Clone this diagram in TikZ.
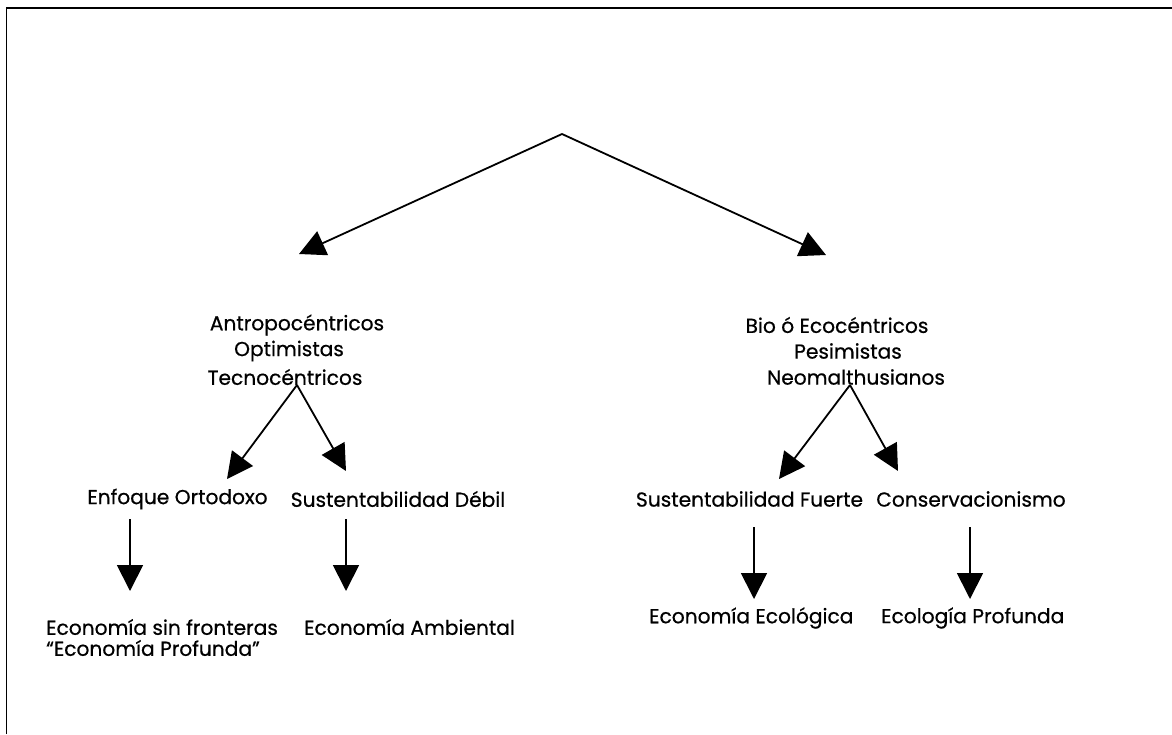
\documentclass[tikz,border=0pt]{standalone}
\usepackage{fontspec}
\setmainfont{Poppins}[FakeBold=0.6]
\usetikzlibrary{arrows.meta}
\begin{document}
\begin{tikzpicture}[x=1pt,y=-1pt,
  conn/.style={line width=1.8pt,-{Triangle[length=26pt,width=26pt]}},
  lbl/.style={inner sep=0pt,font=\fontsize{20.2}{24}\selectfont},
  frame/.style={line width=1.8pt}]
\useasboundingbox (0,0) rectangle (1172,734);
\draw[frame] (6.5,734) -- (6.5,8) -- (1172,8);
% level 0
\coordinate (top) at (562,134);
\coordinate (tL) at (299,254);
\coordinate (tR) at (826,255);
\draw[conn] (top) -- (tL);
\draw[conn] (top) -- (tR);
% level 1 left
\node[lbl] (a1) at (297,325) {Antropocéntricos};
\node[lbl] (a2) at (289,351) {Optimistas};
\node[lbl] (a3) at (285,377) {Tecnocéntricos};
% level 1 right
\node[lbl] (b1) at (837,325) {Bio ó Ecocéntricos};
\node[lbl] (b2) at (848,351) {Pesimistas};
\node[lbl] (b3) at (856,377) {Neomalthusianos};
% branches
\coordinate (aA) at (297,385);
\coordinate (aL) at (227,479);
\coordinate (aR) at (346,471);
\draw[conn] (aA) -- (aL);
\draw[conn] (aA) -- (aR);
\coordinate (bA) at (850,385);
\coordinate (bL) at (779,479);
\coordinate (bR) at (898,471);
\draw[conn] (bA) -- (bL);
\draw[conn] (bA) -- (bR);
% level 2
\node[lbl] (c1) at (177.5,499) {Enfoque Ortodoxo};
\node[lbl] (c2) at (398,499) {Sustentabilidad Débil};
\node[lbl] (c3) at (749.5,499) {Sustentabilidad Fuerte};
\node[lbl] (c4) at (971,499) {Conservacionismo};
% down arrows
\coordinate (d1s) at (130,519); \coordinate (d1e) at (130,591);
\coordinate (d2s) at (346,519); \coordinate (d2e) at (346,591);
\coordinate (d3s) at (754,527); \coordinate (d3e) at (754,599);
\coordinate (d4s) at (970,527); \coordinate (d4e) at (970,599);
\draw[conn] (d1s) -- (d1e);
\draw[conn] (d2s) -- (d2e);
\draw[conn] (d3s) -- (d3e);
\draw[conn] (d4s) -- (d4e);
% level 3
\node[lbl,anchor=west] (e1) at (46,627) {Economía sin fronteras};
\node[lbl,anchor=west] (e1b) at (46,648) {“Economía Profunda”};
\node[lbl,anchor=west] (e2) at (304,627) {Economía Ambiental};
\node[lbl,anchor=west] (e3) at (649,618) {Economía Ecológica};
\node[lbl,anchor=west] (e4) at (881,618) {Ecología Profunda};
\end{tikzpicture}
\end{document}
